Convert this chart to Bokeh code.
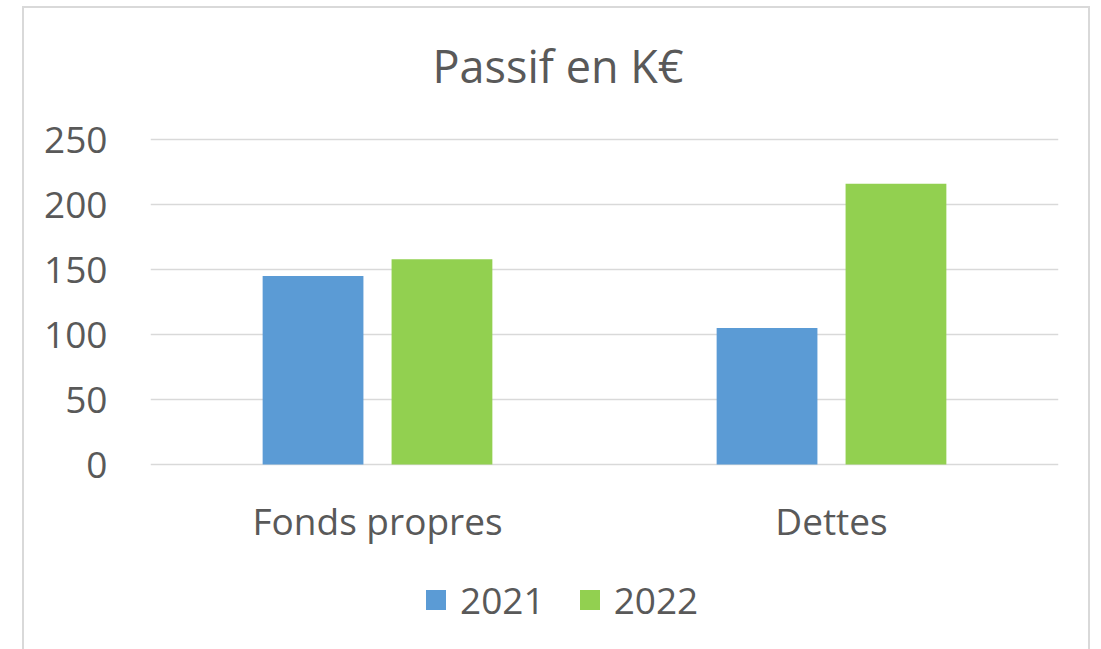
from bokeh.plotting import figure
from bokeh.models import ColumnDataSource, FactorRange, Legend, LegendItem, FixedTicker, Label
from bokeh.transform import dodge
from bokeh.core.properties import value
from bokeh.embed import file_html
from bokeh.resources import INLINE

# ---- data ----
categories = ["Fonds propres", "Dettes"]
years = ["2021", "2022"]
values_2021 = [145, 105]
values_2022 = [158, 216]
y_ticks = [0, 50, 100, 150, 200, 250]
title_text = "Passif en K€"

FONT = "Open Sans"
TXT = "#595959"
COLORS = ["#5B9BD5", "#92D050"]

source = ColumnDataSource(dict(cat=categories, v2021=values_2021, v2022=values_2022))

# frame covers the whole inner chart area; value axis spans 0..250 inside it
p = figure(
    x_range=FactorRange(factors=categories),
    y_range=(-142.3, 350.8),
    frame_width=908, frame_height=641,
    min_border_left=126, min_border_right=30,
    min_border_top=0, min_border_bottom=0,
    output_backend="svg", toolbar_location=None,
    background_fill_color="white", border_fill_color="white",
)
p.margin = (6, 0, 0, 22)
p.styles = {
    "border-left": "2px solid #d9d9d9",
    "border-top": "2px solid #d9d9d9",
    "border-right": "2px solid #d9d9d9",
}
p.outline_line_color = None

r1 = p.vbar(x=dodge("cat", -0.142, range=p.x_range), top="v2021", width=0.222,
            source=source, fill_color=COLORS[0], line_color=None)
r2 = p.vbar(x=dodge("cat", 0.142, range=p.x_range), top="v2022", width=0.222,
            source=source, fill_color=COLORS[1], line_color=None)

# category labels (x axis hidden, labels drawn through the categorical scale)
p.xaxis.visible = False
p.text(x="cat", y=-43, text="cat", source=source,
       text_font=value(FONT), text_font_size=value("37px"), text_color=TXT,
       text_align="center", text_baseline="alphabetic")

# title
p.add_layout(Label(x=0.8976, y=307, text=title_text, text_align="center",
                   text_baseline="alphabetic", text_font=FONT,
                   text_font_size="45px", text_color=TXT))

# value axis
p.yaxis.ticker = FixedTicker(ticks=y_ticks)
p.yaxis.axis_line_color = None
p.yaxis.major_tick_line_color = None
p.yaxis.minor_tick_line_color = None
p.yaxis.major_tick_out = 0
p.yaxis.major_tick_in = 0
p.yaxis.major_label_standoff = 43
p.yaxis.major_label_text_font = FONT
p.yaxis.major_label_text_font_size = "37px"
p.yaxis.major_label_text_color = TXT

p.xgrid.grid_line_color = None
p.ygrid.grid_line_color = "#d9d9d9"
p.ygrid.grid_line_width = 1.5

# legend
legend = Legend(
    items=[LegendItem(label=years[0], renderers=[r1]), LegendItem(label=years[1], renderers=[r2])],
    orientation="horizontal", location=(273, 24),
    glyph_width=25, glyph_height=25, label_standoff=12, spacing=32,
    label_text_font=FONT, label_text_font_size="37px", label_text_color=TXT,
    label_text_baseline="middle",
    padding=0, margin=0, border_line_color=None, background_fill_alpha=0,
)
p.add_layout(legend, "center")

open("out.html", "w").write(file_html(p, INLINE))
